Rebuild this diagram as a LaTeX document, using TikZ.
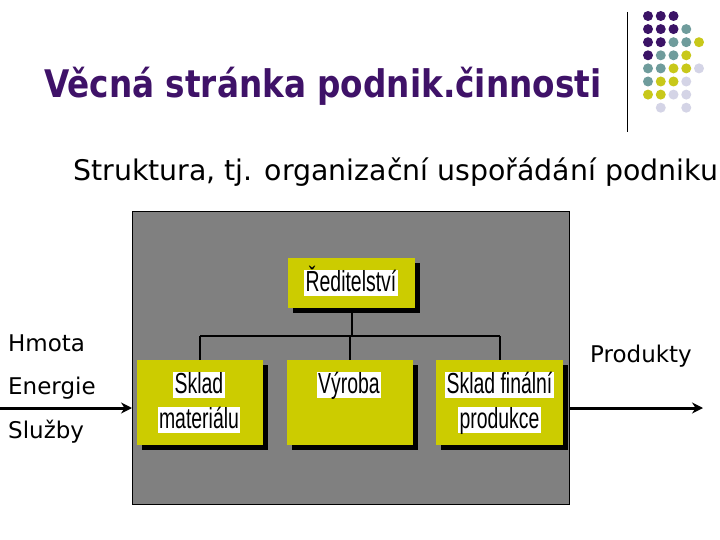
\documentclass[tikz,border=0pt]{standalone}
\usepackage{fontspec}
\setmainfont{DejaVu Sans}
\newfontfamily\titlefont[FakeStretch=0.86]{DejaVu Sans Bold}
\newfontfamily\boxfont[FakeStretch=0.67]{Liberation Sans}
\definecolor{titlepurple}{HTML}{3F1268}
\definecolor{dotP}{HTML}{3B1366}
\definecolor{dotT}{HTML}{6F9C9C}
\definecolor{dotY}{HTML}{C8C81A}
\definecolor{dotL}{HTML}{D4D4E6}
\definecolor{boxyellow}{HTML}{CCCC00}
\definecolor{panelgray}{HTML}{808080}
\tikzset{
  orgbox/.style={fill=boxyellow, draw=none, inner sep=0pt},
  shadowbox/.style={fill=black},
  hl/.style={fill=white, inner xsep=1.5pt, inner ysep=0pt, text height=21pt, text depth=5pt, font=\boxfont\fontsize{29}{31}\selectfont},
  link/.style={line width=2pt, draw=black},
  flow/.style={line width=3pt, -{Stealth[length=11pt,width=11pt]}},
  sidelabel/.style={anchor=base west, inner sep=0pt, font=\fontsize{23}{26}\selectfont},
  dot/.style={circle, inner sep=0pt, minimum size=10pt}
}
\usetikzlibrary{arrows.meta}
\begin{document}
\begin{tikzpicture}[x=1pt,y=-1pt]
\useasboundingbox (0,0) rectangle (720,540);
\fill[white] (0,0) rectangle (720,540);
% title
\node[anchor=base west, inner sep=0pt, text=titlepurple, font=\titlefont\fontsize{38}{40}\selectfont] (title) at (44,98) {Věcná stránka podnik.činnosti};
% vertical rule
\coordinate (ruletop) at (627,12);
\coordinate (rulebot) at (627,132);
\draw[line width=1pt] (ruletop) -- (rulebot);
% dots
\foreach \row/\cols in {0/{0/dotP,1/dotP,2/dotP},
                       1/{0/dotP,1/dotP,2/dotP,3/dotT},
                       2/{0/dotP,1/dotP,2/dotT,3/dotT,4/dotY},
                       3/{0/dotP,1/dotT,2/dotT,3/dotY},
                       4/{0/dotT,1/dotT,2/dotY,3/dotY,4/dotL},
                       5/{0/dotT,1/dotY,2/dotY,3/dotL},
                       6/{0/dotY,1/dotY,2/dotL,3/dotL},
                       7/{1/dotL,3/dotL}} {
  \foreach \c/\col in \cols {
    \node[dot, fill=\col] (d\row\c) at ({648+12.75*\c},{16+13.1*\row}) {};
  }
}
% subtitle
\node[anchor=base west, inner sep=0pt, font=\fontsize{28.4}{31}\selectfont] (sub) at (73,181) {Struktura, tj. organizační uspořádání podniku};
% panel
\node[draw=black, line width=1pt, fill=panelgray, anchor=north west, minimum width=437pt, minimum height=293pt, inner sep=0pt] (panel) at (132,211) {};
% boxes with shadows
\fill[shadowbox] (293,263) rectangle (420,313);
\node[orgbox, anchor=north west, minimum width=127pt, minimum height=50pt] (top) at (288,258) {};
\fill[shadowbox] (142,365) rectangle (268,450);
\fill[shadowbox] (292,365) rectangle (418,450);
\fill[shadowbox] (441,365) rectangle (568,450);
\node[orgbox, anchor=north west, minimum width=126pt, minimum height=85pt] (left) at (137,360) {};
\node[orgbox, anchor=north west, minimum width=126pt, minimum height=85pt] (mid) at (287,360) {};
\node[orgbox, anchor=north west, minimum width=127pt, minimum height=85pt] (right) at (436,360) {};
% texts
\node[hl] (t1) at (351,283) {Ředitelství};
\node[hl] (l1) at (199,385) {Sklad};
\node[hl] (l2) at (199,420) {materiálu};
\node[hl] (m1) at (349,385) {Výroba};
\node[hl] (r1) at (499.5,385) {Sklad finální};
\node[hl] (r2) at (499.5,420) {produkce};
% connectors
\coordinate (bus) at (352,336);
\draw[link] (top.south -| bus) -- (bus);
\draw[link] (left.north |- bus) -- (right.north |- bus);
\draw[link] (left.north |- bus) -- (left.north);
\draw[link] (mid.north |- bus) -- (mid.north);
\draw[link] (right.north |- bus) -- (right.north);
% side labels
\node[sidelabel] (hmota) at (8,351) {Hmota};
\node[sidelabel] (energie) at (8,394) {Energie};
\node[sidelabel] (sluzby) at (8,438) {Služby};
\node[sidelabel] (produkty) at (590,362) {Produkty};
% flows
\coordinate (inL) at (0,408);
\coordinate (outR) at (703,408);
\draw[flow] (inL) -- (inL -| panel.west);
\draw[flow] (outR -| panel.east) -- (outR);
\end{tikzpicture}
\end{document}
